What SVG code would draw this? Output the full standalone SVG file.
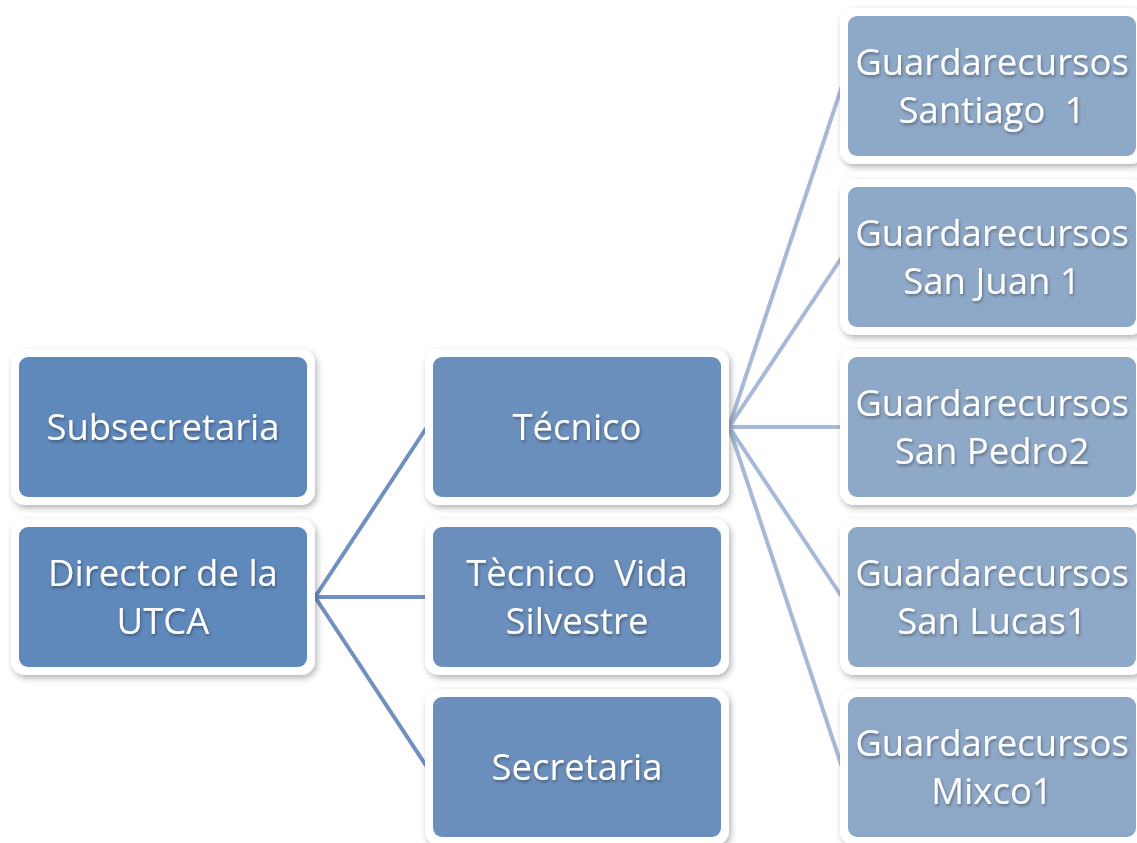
<svg xmlns="http://www.w3.org/2000/svg" width="1137" height="843" viewBox="0 0 1137 843">
<defs>
<filter id="sh" x="-10%" y="-10%" width="125%" height="130%">
<feDropShadow dx="2" dy="3" stdDeviation="3" flood-color="#000" flood-opacity="0.3"/>
</filter>
<filter id="tsh" x="-5%" y="-20%" width="110%" height="150%">
<feDropShadow dx="1" dy="2" stdDeviation="1.5" flood-color="#000" flood-opacity="0.35"/>
</filter>
</defs>
<style>
.frame{fill:#ffffff;filter:url(#sh)}
.c1{fill:#5f88bb}
.c2{fill:#6b8fbc}
.c3{fill:#8ea8c7}
text{font-family:"Open Sans","Liberation Sans",sans-serif;font-size:36.5px;fill:#ffffff;text-anchor:middle;filter:url(#tsh)}
.l1{stroke:#7190c1;stroke-width:4;fill:none}
.l2{stroke:#a6b9d7;stroke-width:4;fill:none}
</style>
<rect width="1137" height="843" fill="#ffffff"/>
<g id="connectors">
<path class="l1" d="M315 597 L427 427 M315 597 L427 597 M315 597 L427 767"/>
<path class="l2" d="M729 427 L842 86 M729 427 L842 257 M729 427 L842 427 M729 427 L842 597 M729 427 L842 767"/>
</g>
<g id="subsecretaria">
<rect class="frame" x="11" y="349" width="304" height="156" rx="14"/>
<rect class="c1" x="19" y="357" width="288" height="140" rx="9"/>
<text x="163" y="440">Subsecretaria</text>
</g>
<g id="director">
<rect class="frame" x="11" y="519" width="304" height="156" rx="14"/>
<rect class="c1" x="19" y="527" width="288" height="140" rx="9"/>
<text x="163" y="586">Director de la</text>
<text x="163" y="634">UTCA</text>
</g>
<g id="tecnico">
<rect class="frame" x="425" y="349" width="304" height="156" rx="14"/>
<rect class="c2" x="433" y="357" width="288" height="140" rx="9"/>
<text x="577" y="440">Técnico</text>
</g>
<g id="tecnico-vida">
<rect class="frame" x="425" y="519" width="304" height="156" rx="14"/>
<rect class="c2" x="433" y="527" width="288" height="140" rx="9"/>
<text x="577" y="586" xml:space="preserve">Tècnico  Vida</text>
<text x="577" y="634">Silvestre</text>
</g>
<g id="secretaria">
<rect class="frame" x="425" y="689" width="304" height="156" rx="14"/>
<rect class="c2" x="433" y="697" width="288" height="140" rx="9"/>
<text x="577" y="780">Secretaria</text>
</g>
<g id="g-santiago">
<rect class="frame" x="840" y="8" width="304" height="156" rx="14"/>
<rect class="c3" x="848" y="16" width="288" height="140" rx="9"/>
<text x="992" y="75">Guardarecursos</text>
<text x="992" y="123" xml:space="preserve">Santiago  1</text>
</g>
<g id="g-sanjuan">
<rect class="frame" x="840" y="179" width="304" height="156" rx="14"/>
<rect class="c3" x="848" y="187" width="288" height="140" rx="9"/>
<text x="992" y="246">Guardarecursos</text>
<text x="992" y="294">San Juan 1</text>
</g>
<g id="g-sanpedro">
<rect class="frame" x="840" y="349" width="304" height="156" rx="14"/>
<rect class="c3" x="848" y="357" width="288" height="140" rx="9"/>
<text x="992" y="416">Guardarecursos</text>
<text x="992" y="464">San Pedro2</text>
</g>
<g id="g-sanlucas">
<rect class="frame" x="840" y="519" width="304" height="156" rx="14"/>
<rect class="c3" x="848" y="527" width="288" height="140" rx="9"/>
<text x="992" y="586">Guardarecursos</text>
<text x="992" y="634">San Lucas1</text>
</g>
<g id="g-mixco">
<rect class="frame" x="840" y="689" width="304" height="156" rx="14"/>
<rect class="c3" x="848" y="697" width="288" height="140" rx="9"/>
<text x="992" y="756">Guardarecursos</text>
<text x="992" y="804">Mixco1</text>
</g>
</svg>
